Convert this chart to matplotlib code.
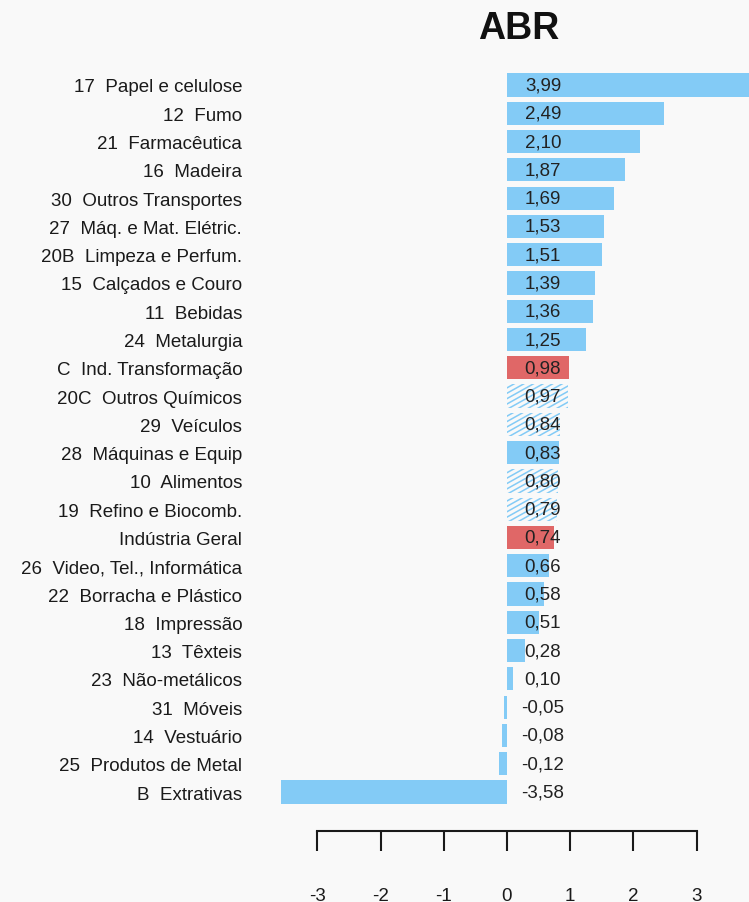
import matplotlib

matplotlib.use("Agg")

import matplotlib.pyplot as plt
import numpy as np

plt.rcParams["font.family"] = ["Liberation Sans", "DejaVu Sans"]

# data, top to bottom
labels = [
    "17  Papel e celulose", "12  Fumo", "21  Farmacêutica", "16  Madeira",
    "30  Outros Transportes", "27  Máq. e Mat. Elétric.", "20B  Limpeza e Perfum.",
    "15  Calçados e Couro", "11  Bebidas", "24  Metalurgia", "C  Ind. Transformação",
    "20C  Outros Químicos", "29  Veículos", "28  Máquinas e Equip", "10  Alimentos",
    "19  Refino e Biocomb.", "Indústria Geral", "26  Video, Tel., Informática",
    "22  Borracha e Plástico", "18  Impressão", "13  Têxteis", "23  Não-metálicos",
    "31  Móveis", "14  Vestuário", "25  Produtos de Metal", "B  Extrativas",
]
values = [
    3.99, 2.49, 2.10, 1.87, 1.69, 1.53, 1.51, 1.39, 1.36, 1.25, 0.98,
    0.97, 0.84, 0.83, 0.80, 0.79, 0.74, 0.66, 0.58, 0.51, 0.28, 0.10,
    -0.05, -0.08, -0.12, -3.58,
]
# "solid", "total" (red) or "hatch"
kinds = [
    "solid", "solid", "solid", "solid", "solid", "solid", "solid", "solid", "solid",
    "solid", "total", "hatch", "hatch", "solid", "hatch", "hatch", "total", "solid",
    "solid", "solid", "solid", "solid", "solid", "solid", "solid", "solid",
]
xticks = [-3, -2, -1, 0, 1, 2, 3]

BG = "#f9f9f9"
BLUE = "#83cbf6"
RED = "#e06767"
W, H = 749, 903
BAR_H = 0.82


def hatch_bar(ax, patch, i, v):
    # shallow diagonal hatch, clipped to the bar
    slope = 1.25          # rows per x unit
    step = 0.19           # vertical spacing in rows
    xs = np.array([min(0, v) - 0.5, max(0, v) + 0.5])
    for c in np.arange(i - 2.0, i + 2.0 + 1.4, step):
        line, = ax.plot(xs, c - slope * xs, color=BLUE, lw=1.1, solid_capstyle="butt")
        line.set_clip_path(patch)


fig = plt.figure(figsize=(W / 100, H / 100), dpi=100, facecolor=BG)
ax = fig.add_axes([270 / W, 1 - 810 / H, 479 / W, (810 - 69) / H], facecolor=BG)

for i, (v, k) in enumerate(zip(values, kinds)):
    if k == "hatch":
        bars = ax.barh(i, v, height=BAR_H, facecolor="none", linewidth=0)
        hatch_bar(ax, bars[0], i, v)
    else:
        ax.barh(i, v, height=BAR_H, color=RED if k == "total" else BLUE, linewidth=0)
    ax.text(0.57, i, f"{v:.2f}".replace(".", ","), ha="center", va="center",
            fontsize=13.5, color="#222222", zorder=5)

ax.set_xlim(-3.75, 3.83)
ax.set_ylim(25.6, -0.6)
ax.set_yticks(range(len(labels)))
ax.set_yticklabels(labels, fontsize=13.5, color="#1a1a1a")
ax.tick_params(axis="y", length=0, pad=20)

for side in ("top", "right", "left"):
    ax.spines[side].set_visible(False)
ax.spines["bottom"].set_position(("outward", 16))
ax.spines["bottom"].set_bounds(-3, 3)
ax.spines["bottom"].set_linewidth(1.5)
ax.spines["bottom"].set_color("#1a1a1a")
ax.set_xticks(xticks)
ax.set_xticklabels([str(t) for t in xticks], fontsize=13.5, color="#1a1a1a")
ax.tick_params(axis="x", length=14.4, width=1.5, pad=25.5, color="#1a1a1a")

fig.text(519 / W, 1 - 29 / H, "ABR", ha="center", va="center",
         fontsize=27, fontweight="bold", color="#111111")

fig.savefig("out.png", facecolor=BG)
